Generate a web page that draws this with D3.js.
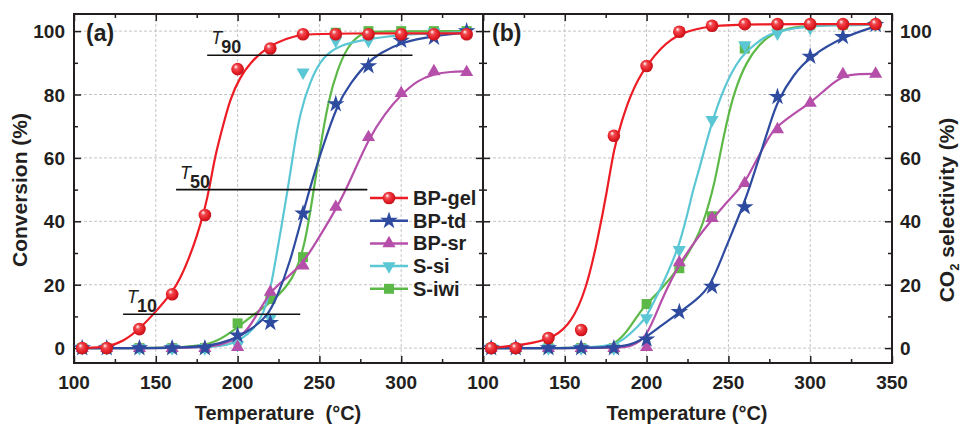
<!DOCTYPE html>
<html>
<head>
<meta charset="utf-8">
<script src="https://cdn.jsdelivr.net/npm/d3@7/dist/d3.min.js"></script>
<style>
  body { margin: 0; background: #fff; }
  svg { display: block; font-family: "Liberation Sans", Arial, sans-serif; }
</style>
</head>
<body>
<svg width="961" height="425"></svg>
<script>
// measured temperatures (°C)
var temps = [105, 120, 140, 160, 180, 200, 220, 240, 260, 280, 300, 320, 340];
var names = ['BP-gel', 'BP-td', 'BP-sr', 'S-si', 'S-iwi'];
var colors = ['#ed1c24', '#2e4b9f', '#b64fa9', '#5cc7d4', '#5db947'];

// (a) conversion, markers
var convGel = [0, 0, 6, 17, 42, 88, 94.5, 99, 99, 99, 99, 99, 99];
var convTd  = [0, 0, 0, 0, 0, 4, 8, 42.5, 77, 89, 97, 98, 100];
var convSr  = [0, 0, 0, 0, 0, 0.3, 17.7, 26, 44.5, 66.5, 80.4, 87.3, 87];
var convSi  = [0, 0, 0, 0, 0, 1, 9.5, 87, 97, 97, 98.7, 99.7, 99.7];
var convIwi = [0, 0, 0, 0, 0, 7.8, 15.5, 28.7, 99.5, 100, 100, 100, 100];

// (b) CO2 selectivity, markers
var selGel = [0, 0, 3.2, 5.7, 67, 89, 99.8, 101.7, 102.2, 102.2, 102.2, 102.2, 102.2];
var selTd  = [0, 0, 0, 0, 0, 2.8, 11.4, 19.4, 44.5, 79.3, 92, 98.2, 102];
var selSr  = [0, 0, 0, 0, 0, 0.3, 27, 41, 52, 69, 77.3, 86.4, 86.5];
var selSi  = [0, 0, 0, 0, 0, 9.5, 31, 72, 95.6, 99.3, 101, 102, 102];
var selIwi = [0, 0, 0, 0, 0, 13.9, 25.2, 41.6, 94.5, 102, 102, 102, 102];

// fitted curves, [T, value]
var fitConvGel = [[105, 0], [120, 0.3], [130, 2], [140, 6], [150, 11.5], [160, 17.5], [165, 22], [170, 28], [175, 35], [180, 44], [183, 51], [186, 60], [189.5, 67], [195.5, 79], [201.6, 85.5], [207.7, 90], [218, 95], [230, 97.8], [240, 99], [260, 99.3], [340, 99.3]];
var fitConvTd  = [[105, 0], [175, 0], [190, 1.5], [200, 3.5], [207.7, 5.7], [218, 9.8], [224, 16], [232, 26.8], [240, 42.6], [245.6, 53], [252, 63.4], [261, 77], [269, 83.6], [279, 90], [287, 93], [300, 96.5], [320, 98.5], [340, 99.5]];
var fitConvSr  = [[105, 0], [180, 0], [190, 1], [201.6, 3.5], [207.7, 6.6], [220, 18.3], [230, 22], [240, 26.8], [248.7, 34], [261, 44.5], [269, 53], [280, 66], [290, 74], [300, 80], [310, 84.5], [320, 86.5], [330, 87.2], [340, 87.3]];
var fitConvSi  = [[105, 0], [180, 0], [195, 1], [201.6, 2.5], [210, 6], [216, 11], [220, 18], [225, 33], [231, 51], [234, 61.5], [238, 74], [244.5, 84.5], [252, 92], [262.8, 95.6], [275, 97], [290, 98.3], [310, 99.2], [340, 99.7]];
var fitConvIwi = [[105, 0], [170, 0], [185, 1.5], [195, 4.5], [207.7, 9.8], [222, 15], [234, 21.5], [241, 32], [246, 48], [250.5, 63.4], [255.4, 78], [260.9, 87.7], [267, 95], [275, 99.4], [285, 100], [340, 100]];

var fitSelGel = [[105, 0], [120, 0.8], [130, 1.5], [144, 3.5], [154, 8], [163, 18.3], [170, 34], [176, 50], [180, 63], [185, 72], [190, 79.5], [195, 85], [200, 89], [208, 94.5], [220.5, 99.7], [240, 101.7], [260, 102.2], [340, 102.2]];
var fitSelTd  = [[105, 0], [180, 0], [190, 1], [196, 2.5], [200, 3.5], [210, 7.5], [220.5, 11.4], [230, 15], [239, 19.3], [247, 30], [260, 46], [265, 54], [270, 62], [275.6, 71], [280, 78], [290, 86.5], [300, 92], [320, 98.2], [340, 101.5]];
var fitSelSr  = [[105, 0], [185, 0], [190, 0.5], [200, 3], [208, 14], [220.5, 27.7], [240.8, 41.3], [257, 50.5], [260, 52], [275.6, 67.8], [280, 70], [290, 74], [300, 77.3], [310, 82], [320, 86], [330, 86.5], [340, 86.5]];
var fitSelSi  = [[105, 0], [175, 0], [185, 2], [196, 7.5], [200, 9.8], [208, 18.3], [220.5, 32], [228.5, 50.5], [231, 54], [239, 70], [247, 82], [257, 92], [267.7, 96.5], [275.6, 99.4], [290, 101], [310, 102], [340, 102]];
var fitSelIwi = [[105, 0], [172, 0], [180, 1], [188, 5], [196, 11.5], [200, 14], [208, 18], [220.5, 25.6], [233, 36], [240.8, 50.5], [243, 56], [247, 66.6], [253, 80.4], [261.5, 91], [269.5, 96], [275.6, 99], [290, 101.5], [310, 102], [340, 102]];

// T10 / T50 / T90 guide lines in panel (a)
var tSubs = ['90', '50', '10'];
var tLevels = [92.4, 50, 10.7];
var tFrom = [181.4, 162.4, 130];
var tTo = [306.9, 279.3, 238.3];

var xTicks = [100, 150, 200, 250, 300, 350];
var xMinor = [125, 175, 225, 275, 325];
var yTicks = [0, 20, 40, 60, 80, 100];
var yMinor = [10, 30, 50, 70, 90];

var svg = d3.select('svg');

var defs = svg.append('defs');
var grad = defs.append('radialGradient')
    .attr('id', 'ball')
    .attr('cx', '45%').attr('cy', '45%').attr('r', '60%')
    .attr('fx', '35%').attr('fy', '30%');
grad.append('stop').attr('offset', '0%').attr('stop-color', '#ffffff');
grad.append('stop').attr('offset', '30%').attr('stop-color', '#f04a50');
grad.append('stop').attr('offset', '70%').attr('stop-color', '#e31b23');
grad.append('stop').attr('offset', '100%').attr('stop-color', '#b5121a');

var plotTop = 14, plotBottom = 363;
var y = d3.scaleLinear().domain([-4.7, 105.4]).range([plotBottom, plotTop]);
var xa = d3.scaleLinear().domain([100, 350]).range([74, 483]);
var xb = d3.scaleLinear().domain([100, 350]).range([483, 892]);

var symbols = [
    d3.symbol().type(d3.symbolCircle).size(125),
    d3.symbol().type(d3.symbolStar).size(95),
    d3.symbol().type(d3.symbolTriangle).size(75),
    d3.symbol().type(d3.symbolTriangle).size(75),
    d3.symbol().type(d3.symbolSquare).size(100)
];
var rotations = [0, 0, 0, 180, 0];

function fillOf(i) {
    return i == 0 ? 'url(#ball)' : colors[i];
}

function panel(x, marks, fits) {
    var g = svg.append('g');

    // grid
    g.selectAll('.gx').data(xTicks.slice(1, -1)).enter().append('line')
        .attr('x1', function(d) { return x(d); })
        .attr('x2', function(d) { return x(d); })
        .attr('y1', plotTop).attr('y2', plotBottom)
        .style('stroke', '#c4c4c4').style('stroke-width', 1)
        .style('stroke-dasharray', '3,2');
    g.selectAll('.gy').data(yTicks).enter().append('line')
        .attr('x1', x.range()[0]).attr('x2', x.range()[1])
        .attr('y1', function(d) { return y(d); })
        .attr('y2', function(d) { return y(d); })
        .style('stroke', '#c4c4c4').style('stroke-width', 1)
        .style('stroke-dasharray', '3,2');

    // inward ticks on all four sides
    var sides = [
        d3.axisBottom(x).tickValues(xTicks).tickSize(-7),
        d3.axisBottom(x).tickValues(xMinor).tickSize(-4),
        d3.axisTop(x).tickValues(xTicks).tickSize(-7),
        d3.axisTop(x).tickValues(xMinor).tickSize(-4),
        d3.axisLeft(y).tickValues(yTicks).tickSize(-7),
        d3.axisLeft(y).tickValues(yMinor).tickSize(-4),
        d3.axisRight(y).tickValues(yTicks).tickSize(-7),
        d3.axisRight(y).tickValues(yMinor).tickSize(-4)
    ];
    var shifts = ['0,' + plotBottom, '0,' + plotBottom, '0,' + plotTop, '0,' + plotTop,
        x.range()[0] + ',0', x.range()[0] + ',0', x.range()[1] + ',0', x.range()[1] + ',0'];
    sides.forEach(function(ax, i) {
        var a = g.append('g').attr('transform', 'translate(' + shifts[i] + ')')
            .call(ax.tickFormat(''));
        a.select('.domain').remove();
        a.selectAll('line').style('stroke', '#231f20').style('stroke-width', 1.5);
    });

    g.append('rect')
        .attr('x', x.range()[0]).attr('y', plotTop)
        .attr('width', x.range()[1] - x.range()[0]).attr('height', plotBottom - plotTop)
        .style('fill', 'none').style('stroke', '#231f20').style('stroke-width', 2);

    var line = d3.line()
        .x(function(d) { return x(d[0]); })
        .y(function(d) { return y(d[1]); })
        .curve(d3.curveBasis);

    // bottom-most series first
    [4, 3, 2, 1, 0].forEach(function(i) {
        g.append('path').datum(fits[i])
            .attr('d', line)
            .style('fill', 'none').style('stroke', colors[i]).style('stroke-width', 2.2);
        g.selectAll('.m' + i).data(marks[i]).enter().append('path')
            .attr('d', symbols[i])
            .attr('transform', function(d, k) {
                return 'translate(' + x(temps[k]) + ',' + y(d) + ') rotate(' + rotations[i] + ')';
            })
            .style('fill', fillOf(i));
    });
    return g;
}

var ga = panel(xa, [convGel, convTd, convSr, convSi, convIwi],
    [fitConvGel, fitConvTd, fitConvSr, fitConvSi, fitConvIwi]);
var gb = panel(xb, [selGel, selTd, selSr, selSi, selIwi],
    [fitSelGel, fitSelTd, fitSelSr, fitSelSi, fitSelIwi]);

var ink = '#231f20';

// tick labels (the left panel's 350 sits under the right panel's 100)
svg.selectAll('.xla').data(xTicks.slice(0, -1)).enter().append('text')
    .attr('x', function(d) { return xa(d); }).attr('y', 389)
    .attr('text-anchor', 'middle')
    .style('font-size', '19px').style('font-weight', 'bold').style('fill', ink)
    .text(function(d) { return d; });
svg.selectAll('.xlb').data(xTicks).enter().append('text')
    .attr('x', function(d) { return xb(d); }).attr('y', 389)
    .attr('text-anchor', 'middle')
    .style('font-size', '19px').style('font-weight', 'bold').style('fill', ink)
    .text(function(d) { return d; });
svg.selectAll('.yla').data(yTicks).enter().append('text')
    .attr('x', 65).attr('y', function(d) { return y(d) + 7; })
    .attr('text-anchor', 'end')
    .style('font-size', '19px').style('font-weight', 'bold').style('fill', ink)
    .text(function(d) { return d; });
svg.selectAll('.ylb').data(yTicks).enter().append('text')
    .attr('x', 900).attr('y', function(d) { return y(d) + 7; })
    .attr('text-anchor', 'start')
    .style('font-size', '19px').style('font-weight', 'bold').style('fill', ink)
    .text(function(d) { return d; });

// axis titles
svg.append('text')
    .attr('x', 278).attr('y', 420).attr('text-anchor', 'middle')
    .style('font-size', '20px').style('font-weight', 'bold').style('fill', ink)
    .style('white-space', 'pre')
    .text('Temperature  (\u00b0C)');
svg.append('text')
    .attr('x', 687).attr('y', 420).attr('text-anchor', 'middle')
    .style('font-size', '20px').style('font-weight', 'bold').style('fill', ink)
    .text('Temperature (\u00b0C)');
svg.append('text')
    .attr('transform', 'translate(27,190) rotate(-90)')
    .attr('text-anchor', 'middle')
    .style('font-size', '21px').style('font-weight', 'bold').style('fill', ink)
    .text('Conversion (%)');
var co2 = svg.append('text')
    .attr('transform', 'translate(954,210) rotate(-90)')
    .attr('text-anchor', 'middle')
    .style('font-size', '21px').style('font-weight', 'bold').style('fill', ink);
co2.append('tspan').text('CO');
co2.append('tspan').attr('dy', 5).style('font-size', '13px').text('2');
co2.append('tspan').attr('dy', -5).text(' selectivity (%)');

// panel letters
svg.append('text').attr('x', 86).attr('y', 41)
    .style('font-size', '23px').style('font-weight', 'bold').style('fill', ink).text('(a)');
svg.append('text').attr('x', 492).attr('y', 41)
    .style('font-size', '23px').style('font-weight', 'bold').style('fill', ink).text('(b)');

// T lines
tSubs.forEach(function(s, i) {
    ga.append('line')
        .attr('x1', xa(tFrom[i])).attr('x2', xa(tTo[i]))
        .attr('y1', y(tLevels[i])).attr('y2', y(tLevels[i]))
        .style('stroke', '#111').style('stroke-width', 1.6);
    var t = ga.append('text')
        .attr('x', xa(tFrom[i]) + 4).attr('y', y(tLevels[i]) - 11)
        .style('fill', ink);
    t.append('tspan').style('font-style', 'italic').style('font-size', '18px').text('T');
    t.append('tspan').attr('dx', -1).attr('dy', 9)
        .style('font-weight', 'bold').style('font-size', '18px').text(s);
});

// legend
var lg = svg.append('g');
names.forEach(function(n, i) {
    var ly = 198 + i * 22.7;
    lg.append('line').attr('x1', 370).attr('x2', 408).attr('y1', ly).attr('y2', ly)
        .style('stroke', colors[i]).style('stroke-width', 2.5);
    lg.append('path').attr('d', symbols[i])
        .attr('transform', 'translate(389,' + ly + ') rotate(' + rotations[i] + ')')
        .style('fill', fillOf(i));
    lg.append('text').attr('x', 413).attr('y', ly + 7)
        .style('font-size', '20px').style('font-weight', 'bold').style('fill', ink)
        .text(n);
});
</script>
</body>
</html>
